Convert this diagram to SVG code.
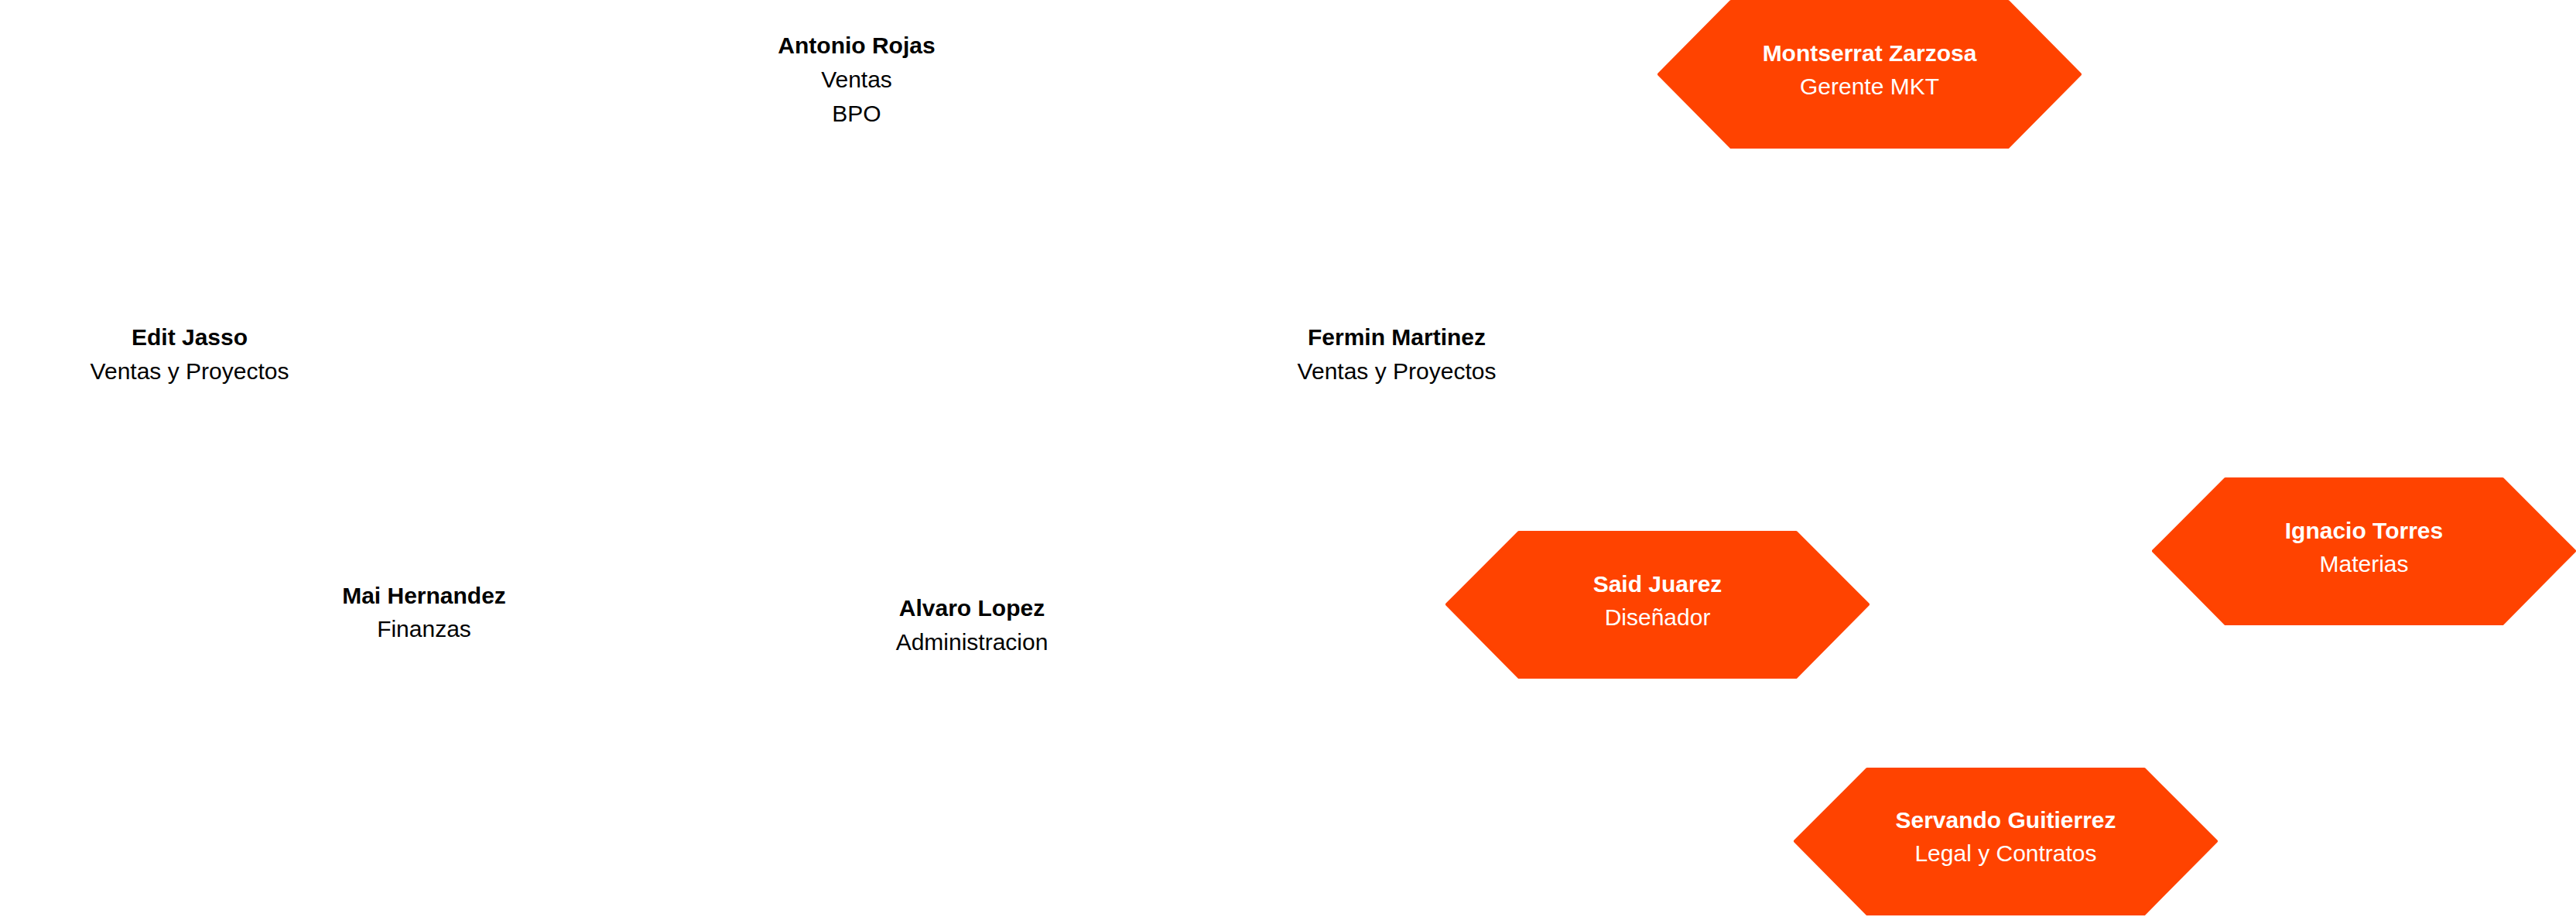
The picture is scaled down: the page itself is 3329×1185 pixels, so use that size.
<svg xmlns="http://www.w3.org/2000/svg" width="3329" height="1185" viewBox="0 0 3329 1185">
<style>
.hex{fill:#FF4300;stroke:#FF4300;stroke-width:4;stroke-linejoin:round}
.t{font-family:"Liberation Sans",Arial,sans-serif;font-size:30px;text-anchor:middle}
.n{font-weight:bold}
.dark{fill:#000}
.light{fill:#fff}
</style>
<rect width="3329" height="1185" fill="#fff"/>
<g id="connectors"></g>
<g id="antonio-rojas" class="t dark">
<text class="n" x="1107" y="69">Antonio Rojas</text>
<text x="1107" y="113">Ventas</text>
<text x="1107" y="157">BPO</text>
</g>
<g id="edit-jasso" class="t dark">
<text class="n" x="245" y="446">Edit Jasso</text>
<text x="245" y="490">Ventas y Proyectos</text>
</g>
<g id="fermin-martinez" class="t dark">
<text class="n" x="1805" y="446">Fermin Martinez</text>
<text x="1805" y="490">Ventas y Proyectos</text>
</g>
<g id="mai-hernandez" class="t dark">
<text class="n" x="548" y="780">Mai Hernandez</text>
<text x="548" y="823">Finanzas</text>
</g>
<g id="alvaro-lopez" class="t dark">
<text class="n" x="1256" y="796">Alvaro Lopez</text>
<text x="1256" y="840">Administracion</text>
</g>
<g id="montserrat-zarzosa">
<polygon class="hex" points="2144,96 2237,2 2595,2 2688,96 2595,190 2237,190"/>
<g class="t light"><text class="n" x="2416" y="79">Montserrat Zarzosa</text><text x="2416" y="122">Gerente MKT</text></g>
</g>
<g id="said-juarez">
<polygon class="hex" points="1870,781 1963,688 2321,688 2414,781 2321,875 1963,875"/>
<g class="t light"><text class="n" x="2142" y="765">Said Juarez</text><text x="2142" y="808">Diseñador</text></g>
</g>
<g id="ignacio-torres">
<polygon class="hex" points="2783,712 2876,619 3234,619 3327,712 3234,806 2876,806"/>
<g class="t light"><text class="n" x="3055" y="696">Ignacio Torres</text><text x="3055" y="739">Materias</text></g>
</g>
<g id="servando-guitierrez">
<polygon class="hex" points="2320,1087 2413,994 2771,994 2864,1087 2771,1181 2413,1181"/>
<g class="t light"><text class="n" x="2592" y="1070">Servando Guitierrez</text><text x="2592" y="1113">Legal y Contratos</text></g>
</g>
</svg>
